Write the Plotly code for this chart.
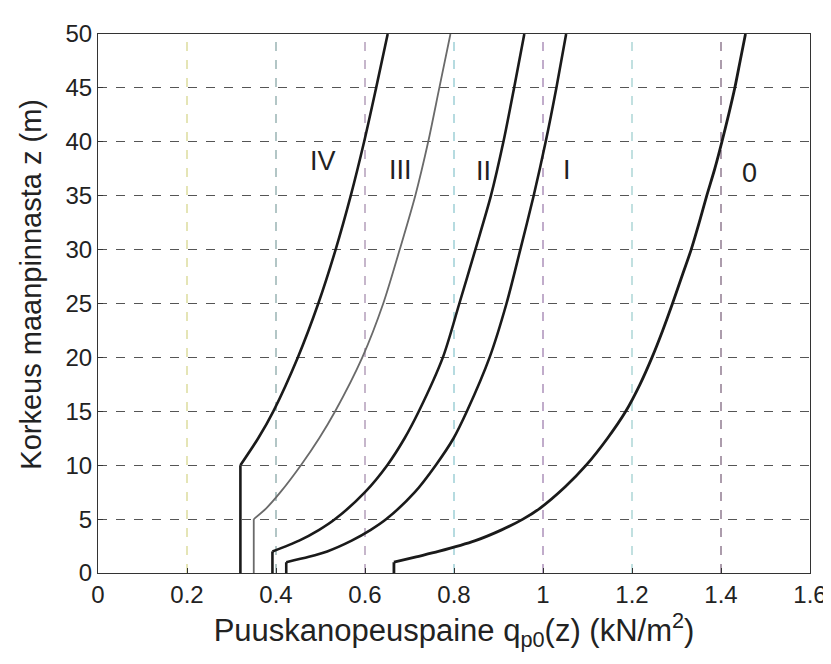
import plotly.graph_objects as go

# Heights (m) and gust pressure values (kN/m^2)
z_0 = [0, 1, 1.5, 2, 3, 4, 5, 6, 8, 10, 12.5, 15, 17.5, 20, 22.5, 25, 27.5, 30, 32.5, 35, 37.5, 40, 42.5, 45, 47.5, 50]
q_0 = [0.665, 0.665, 0.715, 0.765, 0.848, 0.907, 0.955, 0.993, 1.05, 1.097, 1.145, 1.186, 1.218, 1.245, 1.269, 1.291, 1.312, 1.333, 1.351, 1.368, 1.386, 1.402, 1.417, 1.431, 1.443, 1.455]

z_I = [0, 1, 1.5, 2, 3, 4, 5, 7.5, 10, 12.5, 15, 20, 25, 30, 35, 40, 45, 50]
q_I = [0.423, 0.423, 0.474, 0.515, 0.57, 0.613, 0.648, 0.712, 0.759, 0.799, 0.829, 0.88, 0.918, 0.949, 0.979, 1.006, 1.03, 1.052]

z_II = [0, 2, 3, 4, 5, 7.5, 10, 12.5, 15, 20, 25, 30, 35, 40, 45, 50]
q_II = [0.392, 0.392, 0.452, 0.497, 0.533, 0.6, 0.65, 0.689, 0.721, 0.775, 0.812, 0.848, 0.883, 0.911, 0.935, 0.958]

z_III = [0, 5, 6, 7.5, 10, 12.5, 15, 20, 25, 30, 35, 40, 45, 50]
q_III = [0.35, 0.35, 0.378, 0.41, 0.456, 0.497, 0.533, 0.594, 0.641, 0.678, 0.713, 0.742, 0.767, 0.792]

z_IV = [0, 10, 12.5, 15, 20, 25, 30, 35, 40, 45, 50]
q_IV = [0.32, 0.32, 0.36, 0.394, 0.449, 0.495, 0.534, 0.568, 0.598, 0.625, 0.651]

labels = ["IV", "III", "II", "I", "0"]
label_x = [0.505, 0.68, 0.866, 1.053, 1.463]
label_z = [38.2, 37.4, 37.3, 37.4, 37.1]

x_ticks = [0, 0.2, 0.4, 0.6, 0.8, 1, 1.2, 1.4, 1.6]
x_tick_text = ["0", "0.2", "0.4", "0.6", "0.8", "1", "1.2", "1.4", "1.6"]
y_ticks = [0, 5, 10, 15, 20, 25, 30, 35, 40, 45, 50]
# tints of the scanned vertical grid lines
vgrid_colors = ["#c9c9a0", "#d8d890", "#8aa8a8", "#a890b0", "#90c8d0", "#a080b0", "#a0d0d0", "#806880"]

FONT = "Liberation Sans, Arial, Helvetica"

fig = go.Figure()

# vertical grid lines (scan tints) from tick values
for xv, col in zip(x_ticks[1:-1], vgrid_colors[1:]):
    fig.add_shape(type="line", xref="x", yref="paper", x0=xv, x1=xv, y0=0, y1=1,
                  line=dict(color=col, width=1.3, dash="dash"), layer="below")

series = [(q_IV, z_IV, "#1a1a1a", 2.6), (q_III, z_III, "#6a6a6a", 1.8),
          (q_II, z_II, "#1a1a1a", 2.6), (q_I, z_I, "#1a1a1a", 2.6), (q_0, z_0, "#1a1a1a", 2.8)]
for (q, z, c, w), name in zip(series, labels):
    # vertical part below z_min (straight), then the curved profile above it
    fig.add_trace(go.Scatter(x=q[:2], y=z[:2], mode="lines", name=name,
                             line=dict(color=c, width=w)))
    fig.add_trace(go.Scatter(x=q[1:], y=z[1:], mode="lines", name=name,
                             line=dict(color=c, width=w, shape="spline", smoothing=0.8)))

for t, xv, zv in zip(labels, label_x, label_z):
    fig.add_annotation(x=xv, y=zv, text=t, showarrow=False,
                       font=dict(family=FONT, size=27, color="#222"))

# y-axis title (slightly above the axis centre, as in the original)
fig.add_annotation(text="Korkeus maanpinnasta z (m)", xref="paper", yref="paper",
                   x=-0.094, y=0.535, textangle=-90, showarrow=False,
                   xanchor="center", yanchor="middle",
                   font=dict(family=FONT, size=29, color="#222"))

fig.update_layout(
    width=831, height=664,
    margin=dict(l=90, r=19, t=19, b=99),
    plot_bgcolor="white", paper_bgcolor="white",
    showlegend=False,
    font=dict(family=FONT, color="#222"),
    xaxis=dict(range=[0, 1.6], tickvals=x_ticks, ticktext=x_tick_text,
               showgrid=False, zeroline=False, showline=True, linecolor="#333", linewidth=1.2,
               mirror=True, ticks="inside", ticklen=5, tickcolor="#333",
               tickfont=dict(size=24),
               title=dict(text="Puuskanopeuspaine q<sub>p0</sub>(z) (kN/m<sup>2</sup>)",
                          font=dict(size=31), standoff=8)),
    yaxis=dict(range=[0, 50], tickvals=y_ticks,
               showgrid=True, gridcolor="#555", griddash="dash", gridwidth=1,
               zeroline=False, showline=True, linecolor="#333", linewidth=1.2,
               mirror=True, ticks="inside", ticklen=5, tickcolor="#333",
               tickfont=dict(size=24)),
)

fig.write_html("out.html")
